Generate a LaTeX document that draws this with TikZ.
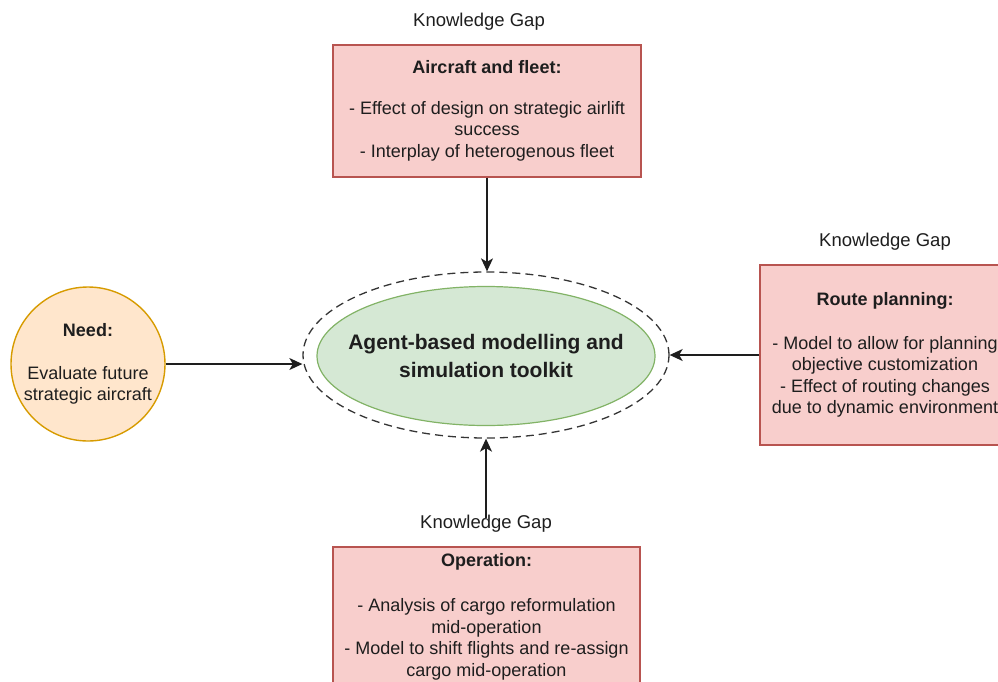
\documentclass[tikz,border=0pt]{standalone}
\usepackage{fontspec}
\setmainfont{Liberation Sans}
\usetikzlibrary{shapes.geometric,arrows.meta}
\definecolor{gapfill}{HTML}{F8CECC}
\definecolor{gapline}{HTML}{B85450}
\definecolor{needfill}{HTML}{FFE6CC}
\definecolor{needline}{HTML}{D79B00}
\definecolor{corefill}{HTML}{D5E8D4}
\definecolor{coreline}{HTML}{82B366}
\definecolor{ink}{HTML}{1E1E1E}

\begin{document}
\begin{tikzpicture}[x=1pt,y=-1pt,
  txt/.style={font=\fontsize{18}{21.6}\selectfont, text=ink, align=center, inner sep=0pt},
  gapbox/.style={txt, rectangle, draw=gapline, fill=gapfill, line width=1.4pt},
  needbox/.style={txt, circle, draw=needline, fill=needfill, line width=1.4pt, minimum size=154pt},
  corebox/.style={ellipse, draw=coreline, fill=corefill, line width=1.2pt, inner sep=0pt},
  coretext/.style={text=ink, align=center, inner sep=0pt, font=\fontsize{21}{28}\selectfont\bfseries},
  halo/.style={ellipse, draw=ink!90, line width=1.3pt, dash pattern=on 8pt off 5pt, inner sep=0pt},
  conn/.style={draw=ink, line width=1.3pt, -{Stealth[length=13pt,width=12pt,inset=3.5pt]}}
]
\useasboundingbox (0,0) rectangle (998,681);
\clip (0,0) rectangle (998,681);

% central toolkit with its dashed boundary
\node[halo, minimum width=366pt, minimum height=166pt] (halo) at (486,355) {};
\node[corebox, minimum width=338pt, minimum height=139pt] (core) at (486,356) {};
\node[coretext] (coretxt) at (core.center) {Agent-based modelling and\\simulation toolkit};

% the need driving the toolkit
\node[needbox] (need) at (88,364)
  {\textbf{Need:}\\[21pt]Evaluate future\\strategic aircraft};

% knowledge gaps
\node[txt, font=\fontsize{18.5}{22}\selectfont] (gaptopl) at (479,22) {Knowledge Gap};
\node[gapbox, minimum width=308pt, minimum height=132pt] (fleet) at (487,111)
  {\textbf{Aircraft and fleet:}\\[19pt]- Effect of design on strategic airlift\\success\\- Interplay of heterogenous fleet};

\node[txt, font=\fontsize{18.5}{22}\selectfont] (gaprightl) at (885,242) {Knowledge Gap};
\node[gapbox, minimum width=250pt, minimum height=180pt] (route) at (885,355)
  {\textbf{Route planning:}\\[22pt]- Model to allow for planning\\objective customization\\- Effect of routing changes\\due to dynamic environment};

\node[txt, font=\fontsize{18.5}{22}\selectfont] (gapbotl) at (486,524) {Knowledge Gap};
\node[gapbox, minimum width=307pt, minimum height=140pt] (oper) at (486.5,617)
  {\textbf{Operation:}\\[23pt]- Analysis of cargo reformulation\\mid-operation\\- Model to shift flights and re-assign\\cargo mid-operation};

% connectors into the toolkit
\draw[conn] (fleet.south) -- (fleet.south |- halo.north);
\draw[conn] (need.east) -- (need.east -| halo.west);
\draw[conn] (route.west) -- (halo.east);
\draw[conn] ([yshift=-3pt]gapbotl.north) -- (gapbotl.north |- halo.south);
\end{tikzpicture}
\end{document}
